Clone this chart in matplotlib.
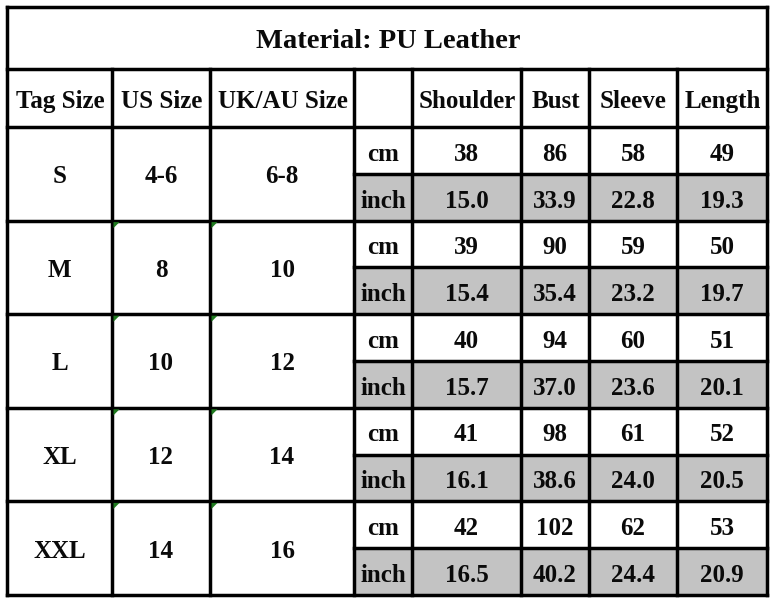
import matplotlib
matplotlib.use("Agg")
import matplotlib.pyplot as plt
from matplotlib.patches import Rectangle, Polygon

# ---- data ----
title = "Material: PU Leather"
header = ["Tag Size", "US Size", "UK/AU Size", "", "Shoulder", "Bust", "Sleeve", "Length"]
tag_sizes = ["S", "M", "L", "XL", "XXL"]
us_sizes = ["4-6", "8", "10", "12", "14"]
uk_sizes = ["6-8", "10", "12", "14", "16"]
units = ["cm", "inch"]
cm_values = [
    [38, 86, 58, 49],
    [39, 90, 59, 50],
    [40, 94, 60, 51],
    [41, 98, 61, 52],
    [42, 102, 62, 53],
]
inch_values = [
    [15.0, 33.9, 22.8, 19.3],
    [15.4, 35.4, 23.2, 19.7],
    [15.7, 37.0, 23.6, 20.1],
    [16.1, 38.6, 24.0, 20.5],
    [16.5, 40.2, 24.4, 20.9],
]

# ---- layout (pixels) ----
W, H = 772, 600
col_edges = [7, 112, 210, 354, 412, 521, 589, 677, 767]
title_top, title_bot = 7, 69
head_bot = 127
row_bot = 595
n_half = len(tag_sizes) * 2
half_h = (row_bot - head_bot) / n_half
row_edges = [head_bot + i * half_h for i in range(n_half + 1)]

gray = "#c3c3c3"
lw = 2.5
FONT = "Liberation Serif"
fs = 18
base_off = 10.3

fig = plt.figure(figsize=(W / 100, H / 100), dpi=100)
ax = fig.add_axes([0, 0, 1, 1])
ax.set_xlim(0, W)
ax.set_ylim(H, 0)
ax.axis("off")

# gray inch rows
for i in range(len(tag_sizes)):
    y0 = row_edges[2 * i + 1]
    ax.add_patch(Rectangle((col_edges[3], y0), col_edges[-1] - col_edges[3], half_h,
                           facecolor=gray, edgecolor="none", zorder=1))

def line(x0, y0, x1, y1):
    ax.plot([x0, x1], [y0, y1], color="black", lw=lw, solid_capstyle="projecting", zorder=3)

# outer frame
line(col_edges[0], title_top, col_edges[-1], title_top)
line(col_edges[0], row_bot, col_edges[-1], row_bot)
line(col_edges[0], title_top, col_edges[0], row_bot)
line(col_edges[-1], title_top, col_edges[-1], row_bot)
line(col_edges[0], title_bot, col_edges[-1], title_bot)
line(col_edges[0], head_bot, col_edges[-1], head_bot)
for x in col_edges[1:-1]:
    line(x, title_bot, x, row_bot)
for i, y in enumerate(row_edges[1:-1], start=1):
    if i % 2 == 0:
        line(col_edges[0], y, col_edges[-1], y)
    else:
        line(col_edges[3], y, col_edges[-1], y)

def txt(x, yc, s, size=fs, off=base_off):
    ax.text(x, yc + off, s, ha="center", va="baseline", fontsize=size, fontweight="bold",
            family=FONT, color="#0a0a0a", zorder=4)

def cx(c):
    return (col_edges[c] + col_edges[c + 1]) / 2

txt((col_edges[0] + col_edges[-1]) / 2 + 1, (title_top + title_bot) / 2, title, size=20.5, off=10.5)
for c, h in enumerate(header):
    if h:
        txt(cx(c) + 0.5, (title_bot + head_bot) / 2, h, off=10)

for i in range(len(tag_sizes)):
    ytop = row_edges[2 * i]
    ymid = ytop + half_h
    txt(cx(0), ymid, tag_sizes[i], off=9.5)
    txt(cx(1), ymid, us_sizes[i], off=9.5)
    txt(cx(2), ymid, uk_sizes[i], off=9.5)
    for k, (unit, vals) in enumerate(zip(units, [cm_values[i], inch_values[i]])):
        yc = ytop + half_h * (k + 0.5)
        txt(cx(3), yc, unit)
        for j, v in enumerate(vals):
            s = f"{v:.1f}" if k == 1 else f"{v}"
            txt(cx(4 + j), yc, s)
    if i > 0:
        for c in (1, 2):
            x0 = col_edges[c] + 1.5
            y0 = ytop + 1.5
            ax.add_patch(Polygon([(x0, y0), (x0 + 6, y0), (x0, y0 + 6)], closed=True,
                                 facecolor="#1f7a1f", edgecolor="none", zorder=5))

fig.savefig("out.png", dpi=100)
